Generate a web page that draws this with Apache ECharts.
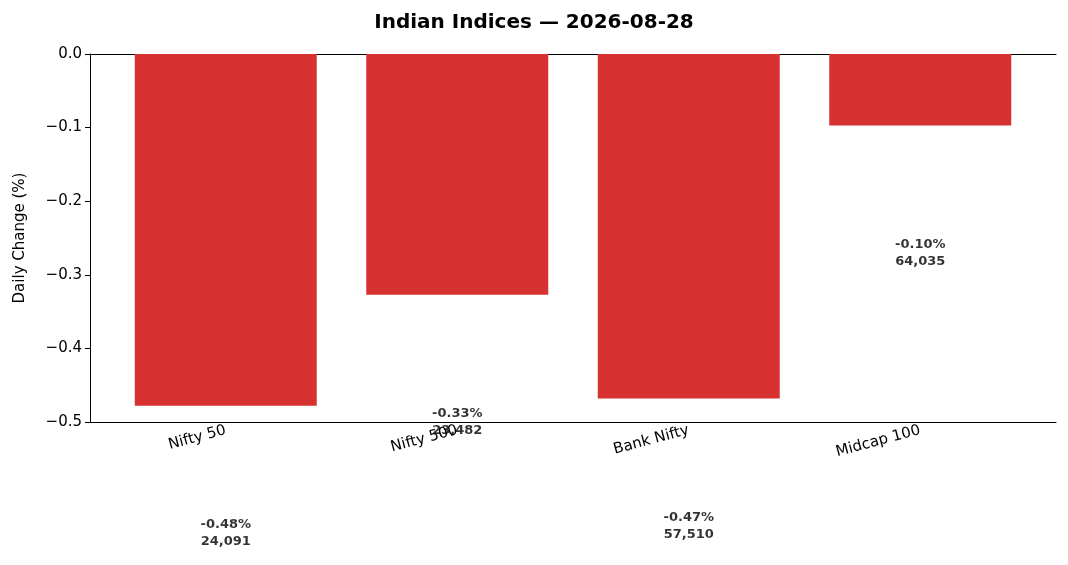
<!DOCTYPE html>
<html><head><meta charset="utf-8">
<script src="https://cdn.jsdelivr.net/npm/echarts@6/dist/echarts.min.js"></script>
</head><body style="margin:0">
<div id="c" style="width:1068px;height:565px"></div>
<script>
const categories = ["Nifty 50", "Nifty 500", "Bank Nifty", "Midcap 100"];
const changes = [-0.478, -0.327, -0.468, -0.097];
const pctLabels = ["-0.48%", "-0.33%", "-0.47%", "-0.10%"];
const levels = ["24,091", "23,482", "57,510", "64,035"];
const labelOffset = 0.173;

const chart = echarts.init(document.getElementById('c'));
const font = 'DejaVu Sans';
const yCommon = {type: 'value', min: -0.5, max: 0, interval: 0.1, splitLine: {show: false}};
chart.setOption({
  animation: false,
  title: {text: 'Indian Indices — 2026-08-28', left: 'center', top: 8,
    textStyle: {fontFamily: font, fontSize: 20, fontWeight: 'bold', color: '#000'}},
  grid: [
    {left: 110, right: 32, top: 54, bottom: 143},
    {left: 90, right: 12, top: 54, bottom: 143}
  ],
  xAxis: [{
    gridIndex: 0, type: 'category', data: categories, position: 'bottom',
    axisLine: {show: false, onZero: false},
    axisTick: {alignWithLabel: true, length: 5, lineStyle: {color: '#000'}},
    axisLabel: {rotate: 15, fontFamily: font, fontSize: 15, color: '#000', margin: 8}
  }, {
    gridIndex: 1, type: 'value', min: 0, max: 1, position: 'bottom',
    axisLine: {show: true, onZero: false, lineStyle: {color: '#000'}},
    axisTick: {show: false}, axisLabel: {show: false}, splitLine: {show: false}
  }, {
    gridIndex: 1, type: 'value', min: 0, max: 1, position: 'top',
    axisLine: {show: true, onZero: false, lineStyle: {color: '#000'}},
    axisTick: {show: false}, axisLabel: {show: false}, splitLine: {show: false}
  }],
  yAxis: [Object.assign({gridIndex: 0, show: false}, yCommon),
    Object.assign({
    gridIndex: 1,
    name: 'Daily Change (%)', nameLocation: 'middle', nameGap: 62,
    nameTextStyle: {fontFamily: font, fontSize: 15, color: '#000'},
    axisLine: {show: true, onZero: false, lineStyle: {color: '#000'}},
    axisTick: {show: true, length: 5, lineStyle: {color: '#000'}},
    axisLabel: {fontFamily: font, fontSize: 15, color: '#000',
      formatter: v => (v < 0 ? '\u2212' + Math.abs(v).toFixed(1) : '0.0')}
  }, yCommon)],
  series: [{
    type: 'bar', data: changes, barWidth: 182, xAxisIndex: 0, yAxisIndex: 0,
    itemStyle: {color: '#d73131'}
  }, {
    type: 'scatter', clip: false, symbolSize: 1, xAxisIndex: 0, yAxisIndex: 0,
    data: changes.map((v, i) => [i, v - labelOffset]),
    itemStyle: {color: 'rgba(0,0,0,0)'},
    label: {show: true, position: 'inside', fontFamily: font, fontSize: 13, fontWeight: 'bold',
      color: '#000', lineHeight: 17,
      formatter: p => pctLabels[p.dataIndex] + '\n' + levels[p.dataIndex]}
  }]
});
</script></body></html>
